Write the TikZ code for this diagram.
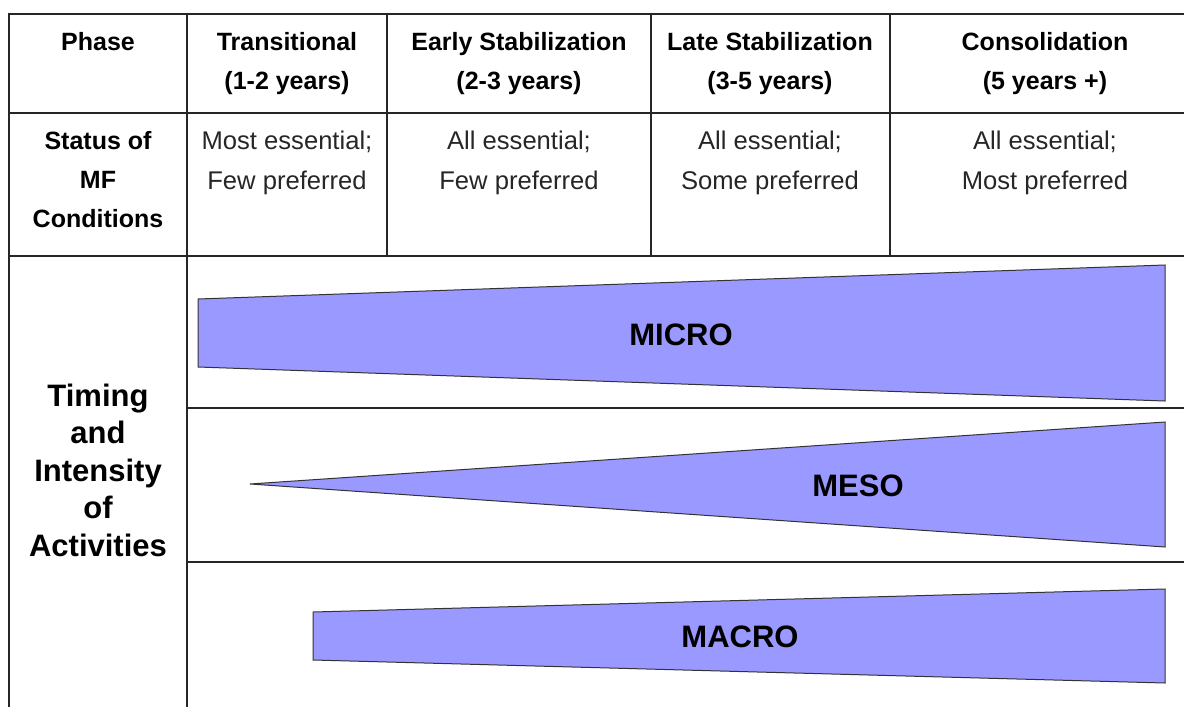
\documentclass[tikz,border=0pt]{standalone}
\usepackage{fontspec}
\setmainfont{Liberation Sans}
\definecolor{wedgeblue}{HTML}{9999FF}

\begin{document}
\begin{tikzpicture}[x=0.5pt,y=-0.5pt,
  grid/.style={line width=0.8pt,black!85},
  wedge/.style={fill=wedgeblue,draw=black!80,line width=0.5pt},
  head/.style={align=center,font=\fontsize{12.5}{19.5}\selectfont\bfseries},
  cell/.style={align=center,font=\fontsize{12.8}{20}\selectfont,text=black!85},
  tag/.style={font=\fontsize{15.5}{18.75}\selectfont\bfseries}]
\useasboundingbox (0,0) rectangle (1184,707);

% Table grid
\draw[grid] (9,707) -- (9,14) -- (1184,14);
\draw[grid] (9,113) -- (1184,113);
\draw[grid] (9,256) -- (1184,256);
\draw[grid] (187,14) -- (187,707);
\foreach \x in {387,651,890}
  \draw[grid] (\x,14) -- (\x,256);
\draw[grid] (187,408) -- (1184,408);
\draw[grid] (187,562) -- (1184,562);

% Header row
\node[head] (phase) at (98,42) {Phase};
\node[head] (trans) at (287,64) {Transitional\\(1-2 years)};
\node[head] (early) at (519,64) {Early Stabilization\\(2-3 years)};
\node[head] (late) at (770,64) {Late Stabilization\\(3-5 years)};
\node[head] (consol) at (1045,64) {Consolidation\\(5 years +)};

% Status row
\node[head] (status) at (98,180) {Status of\\MF\\Conditions};
\node[cell] (st1) at (287,163) {Most essential;\\Few preferred};
\node[cell] (st2) at (519,163) {All essential;\\Few preferred};
\node[cell] (st3) at (770,163) {All essential;\\Some preferred};
\node[cell] (st4) at (1045,163) {All essential;\\Most preferred};

% Timing and intensity
\node[tag,align=center] (timing) at (98,470) {Timing\\and\\Intensity\\of\\Activities};

\draw[wedge] (198,299) -- (1165,265) -- (1165,401) -- (198,367) -- cycle;
\draw[wedge] (250,484) -- (1165,422) -- (1165,547) -- cycle;
\draw[wedge] (313,612) -- (1165,589) -- (1165,683) -- (313,660) -- cycle;

\node[tag] (micro) at (681,335) {MICRO};
\node[tag] (meso) at (858,486) {MESO};
\node[tag] (macro) at (740,637) {MACRO};
\end{tikzpicture}
\end{document}
